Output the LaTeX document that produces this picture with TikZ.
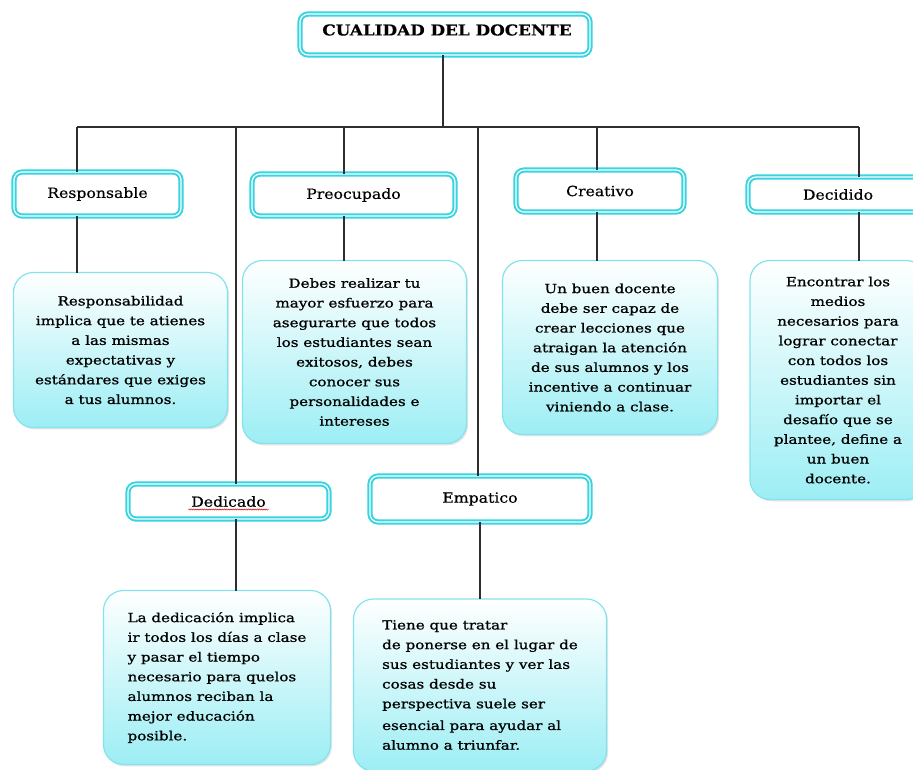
\documentclass[tikz,border=0pt]{standalone}
\usepackage{fontspec}
\setmainfont{DejaVu Serif}
\newfontfamily\bodyfont{DejaVu Serif}[FakeStretch=1.2, FakeBold=0.9]
\newfontfamily\headfont{DejaVu Serif}[FakeStretch=1.12, FakeBold=0.4]
\usetikzlibrary{shadows,decorations.pathmorphing}

\definecolor{tealline}{HTML}{38D4E0}
\definecolor{aquafill}{HTML}{9CEEF4}
\definecolor{aquaedge}{HTML}{84E2EC}
\definecolor{linkgray}{HTML}{2E2E2E}

\tikzset{
  x=1pt, y=-1pt,
  every node/.style={inner sep=0pt, outer sep=0pt},
  labelbox/.style={draw=tealline, line width=2pt, double=white,
    double distance=1.2pt, rounded corners=8pt, fill=white,
    font=\headfont\fontsize{14}{16}\selectfont},
  textbox/.style={draw=aquaedge, line width=1.2pt, rounded corners=20pt,
    top color=white, bottom color=aquafill,
    drop shadow={opacity=0.22, shadow xshift=1.5pt, shadow yshift=-1.8pt},
    font=\bodyfont\fontsize{12.6}{19.7}\selectfont, align=center},
  leftbox/.style={textbox, align=left},
  link/.style={draw=linkgray, line width=1.3pt},
}

\begin{document}
\begin{tikzpicture}
\useasboundingbox (0,0) rectangle (913,770);

% title
\node[labelbox, minimum width=290pt, minimum height=41pt] (title) at (445,34.5) {};
\node[font=\headfont\bfseries\fontsize{15}{18}\selectfont] (titletxt) at (447,30) {CUALIDAD DEL DOCENTE};

% category boxes
\node[labelbox, minimum width=167pt, minimum height=44pt] (resp) at (97.5,194) {Responsable};
\node[labelbox, minimum width=203pt, minimum height=42pt] (preo) at (353.5,195) {Preocupado};
\node[labelbox, minimum width=168pt, minimum height=42pt] (crea) at (600,191) {Creativo};
\node[labelbox, minimum width=180pt, minimum height=35pt] (deci) at (838,194.5) {Decidido};
\node[labelbox, minimum width=201pt, minimum height=35pt] (dedi) at (228.5,501.5) {Dedicado};
\node[labelbox, minimum width=220pt, minimum height=46pt] (empa) at (480,499) {Empatico};

% description boxes
\node[textbox, minimum width=214pt, minimum height=155pt] (resptxt) at (120.5,350)
  {Responsabilidad\\implica que te atienes\\a las mismas\\expectativas y\\estándares que exiges\\a tus alumnos.};
\node[textbox, minimum width=224pt, minimum height=183pt] (preotxt) at (354.5,352)
  {Debes realizar tu\\mayor esfuerzo para\\asegurarte que todos\\los estudiantes sean\\exitosos, debes\\conocer sus\\personalidades e\\intereses};
\node[textbox, minimum width=215pt, minimum height=174pt] (creatxt) at (610,347.5)
  {Un buen docente\\debe ser capaz de\\crear lecciones que\\atraigan la atención\\de sus alumnos y los\\incentive a continuar\\viniendo a clase.};
\node[textbox, minimum width=176pt, minimum height=239pt] (decitxt) at (838,380)
  {Encontrar los\\medios\\necesarios para\\lograr conectar\\con todos los\\estudiantes sin\\importar el\\desafío que se\\plantee, define a\\un buen\\docente.};
\node[leftbox, minimum width=227pt, minimum height=174pt] (editxt) at (217,677.5)
  {La dedicación implica\\ir todos los días a clase\\y pasar el tiempo\\necesario para quelos\\alumnos reciban la\\mejor educación\\posible.};
\node[leftbox, minimum width=253pt, minimum height=172pt] (empatxt) at (480,685)
  {Tiene que tratar\\de ponerse en el lugar de\\sus estudiantes y ver las\\cosas desde su\\perspectiva suele ser\\[2pt]esencial para ayudar al\\alumno a triunfar.};

% spell-check squiggle under "Dedicado"
\draw[red!85!black, line width=0.5pt, decorate,
  decoration={snake, amplitude=0.6pt, segment length=2.2pt}]
  ([xshift=-40pt,yshift=-8pt]dedi.center) -- ([xshift=40pt,yshift=-8pt]dedi.center);

% junction points on the horizontal bar
\coordinate (jt) at (443,127);
\coordinate (jr) at (77,127);
\coordinate (jd) at (236,127);
\coordinate (jp) at (344,127);
\coordinate (je) at (478,127);
\coordinate (jc) at (597,127);
\coordinate (jk) at (859,127);

% tree connectors
\draw[link] (jt |- title.south) -- (jt);
\draw[link] (jr) -- (jk);
\draw[link] (jr) -- (jr |- resp.north);
\draw[link] (jd) -- (jd |- dedi.north);
\draw[link] (jp) -- (jp |- preo.north);
\draw[link] (je) -- (je |- empa.north);
\draw[link] (jc) -- (jc |- crea.north);
\draw[link] (jk) -- (jk |- deci.north);

% category to description
\draw[link] (jr |- resp.south) -- (jr |- resptxt.north);
\draw[link] (jp |- preo.south) -- (jp |- preotxt.north);
\draw[link] (jc |- crea.south) -- (jc |- creatxt.north);
\draw[link] (jk |- deci.south) -- (jk |- decitxt.north);
\draw[link] (jd |- dedi.south) -- (jd |- editxt.north);
\draw[link] (empa.south) -- (empatxt.north);
\end{tikzpicture}
\end{document}
